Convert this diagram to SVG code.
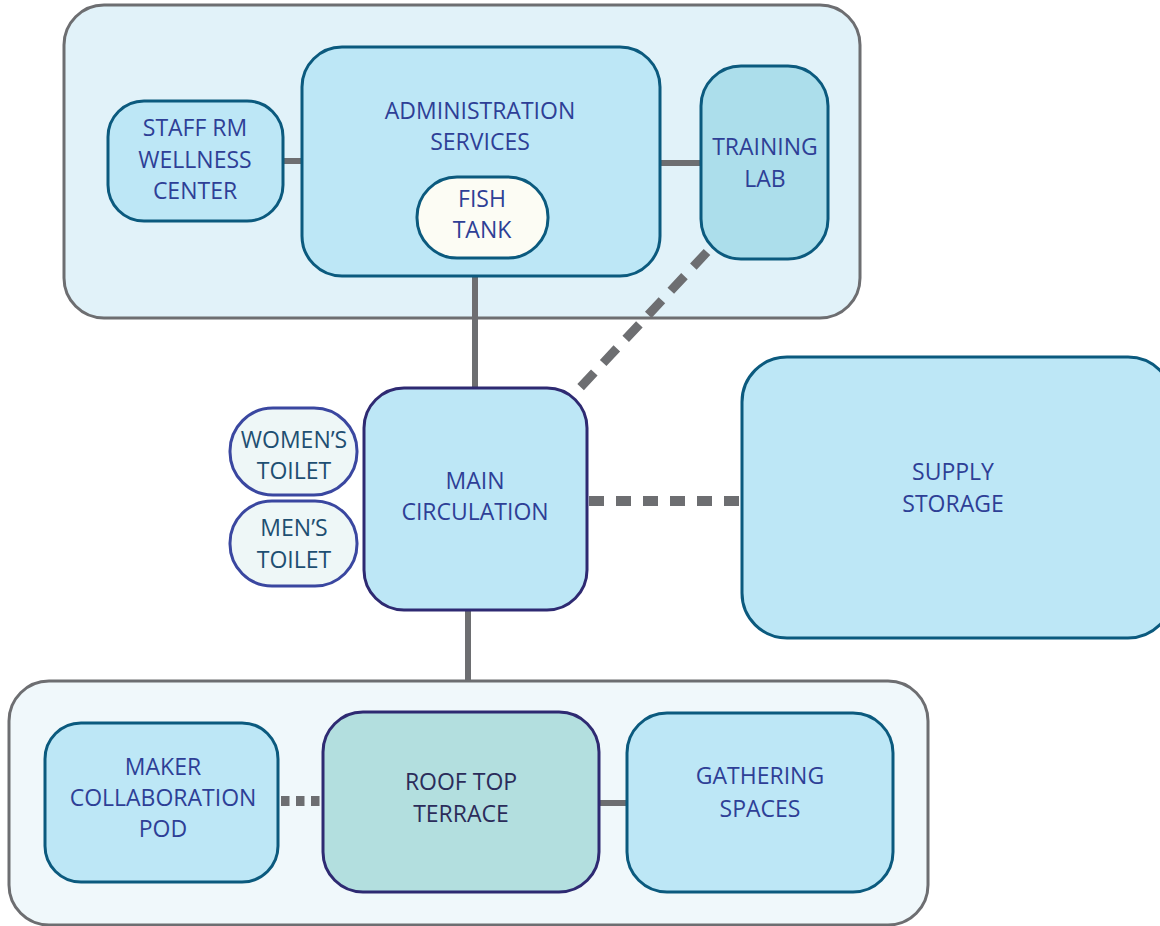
<svg xmlns="http://www.w3.org/2000/svg" width="1160" height="926" viewBox="0 0 1160 926">
  <style>
    .zone { stroke: #6d6e71; stroke-width: 3; }
    .zone-top { fill: #e1f2f9; }
    .zone-bottom { fill: #f0f8fb; }
    .room { fill: #bde7f6; stroke: #0b5a7e; stroke-width: 3; }
    .lab { fill: #acdeeb; }
    .tank { fill: #fcfcf4; }
    .hub { fill: #bde7f6; stroke: #2e2a72; stroke-width: 3; }
    .terrace { fill: #b3dfdf; stroke: #2e2a72; stroke-width: 3; }
    .wc { fill: #eef7f7; stroke: #3a47a0; stroke-width: 3; }
    text { font-family: "Open Sans", "Noto Sans", "Liberation Sans", sans-serif; font-size: 23px; text-anchor: middle; fill: #2e3f96; }
    .t-wc { fill: #1e4f72; }
    .t-dark { fill: #2b2c5a; }
    .link { stroke: #6d6e71; stroke-width: 6; fill: none; }
    .link-dash { stroke: #6d6e71; stroke-width: 10; fill: none; stroke-dasharray: 15 12; }
    .link-diag { stroke: #6d6e71; stroke-width: 9; fill: none; stroke-dasharray: 20 13; }
    .link-dot { stroke: #6d6e71; stroke-width: 10; fill: none; stroke-dasharray: 8.5 6.5; }
  </style>

  <!-- zones -->
  <g id="zone-admin">
    <rect class="zone zone-top" x="64" y="5" width="796" height="313" rx="40"/>
  </g>
  <g id="zone-commons">
    <rect class="zone zone-bottom" x="9" y="681" width="919" height="244" rx="40"/>
  </g>

  <!-- connectors -->
  <g id="connectors">
    <line class="link" x1="282" y1="161" x2="304" y2="161"/>
    <line class="link" x1="659" y1="163" x2="703" y2="163"/>
    <line class="link" x1="475" y1="276" x2="475" y2="389"/>
    <line class="link-diag" x1="707" y1="252" x2="577" y2="391"/>
    <line class="link-dash" x1="589" y1="501" x2="741" y2="501"/>
    <line class="link" x1="468" y1="609" x2="468" y2="682"/>
    <line class="link-dot" x1="281" y1="801" x2="323" y2="801"/>
    <line class="link" x1="598" y1="803" x2="628" y2="803"/>
  </g>

  <!-- rooms -->
  <g id="staff-rm">
    <rect class="room" x="108" y="101" width="175" height="120" rx="36"/>
    <text x="195" y="136">STAFF RM</text>
    <text x="195" y="167.5">WELLNESS</text>
    <text x="195" y="199">CENTER</text>
  </g>
  <g id="administration">
    <rect class="room" x="302" y="47" width="358" height="229" rx="40"/>
    <text x="480" y="119">ADMINISTRATION</text>
    <text x="480" y="150">SERVICES</text>
  </g>
  <g id="fish-tank">
    <rect class="room tank" x="417" y="177" width="131" height="81" rx="40"/>
    <text x="482" y="206.5">FISH</text>
    <text x="482" y="238">TANK</text>
  </g>
  <g id="training-lab">
    <rect class="room lab" x="701" y="66" width="127" height="193" rx="40"/>
    <text x="765" y="155">TRAINING</text>
    <text x="765" y="186.5">LAB</text>
  </g>
  <g id="main-circulation">
    <rect class="hub" x="364" y="388" width="223" height="222" rx="40"/>
    <text x="475" y="489">MAIN</text>
    <text x="475" y="519.5">CIRCULATION</text>
  </g>
  <g id="womens-toilet">
    <rect class="wc" x="230" y="408" width="127" height="87" rx="43"/>
    <text class="t-wc" x="294" y="447.5">WOMEN’S</text>
    <text class="t-wc" x="294" y="479">TOILET</text>
  </g>
  <g id="mens-toilet">
    <rect class="wc" x="230" y="501" width="127" height="85" rx="42"/>
    <text class="t-wc" x="294" y="536">MEN’S</text>
    <text class="t-wc" x="294" y="567.5">TOILET</text>
  </g>
  <g id="supply-storage">
    <rect class="room" x="742" y="357" width="431" height="281" rx="45"/>
    <text x="953" y="480">SUPPLY</text>
    <text x="953" y="512">STORAGE</text>
  </g>
  <g id="maker-pod">
    <rect class="room" x="45" y="723" width="233" height="159" rx="36"/>
    <text x="163" y="775">MAKER</text>
    <text x="163" y="806">COLLABORATION</text>
    <text x="163" y="837">POD</text>
  </g>
  <g id="roof-top-terrace">
    <rect class="terrace" x="323" y="712" width="276" height="180" rx="40"/>
    <text class="t-dark" x="461" y="790">ROOF TOP</text>
    <text class="t-dark" x="461" y="821.5">TERRACE</text>
  </g>
  <g id="gathering-spaces">
    <rect class="room" x="627" y="713" width="266" height="179" rx="40"/>
    <text x="760" y="784">GATHERING</text>
    <text x="760" y="816.5">SPACES</text>
  </g>
</svg>
